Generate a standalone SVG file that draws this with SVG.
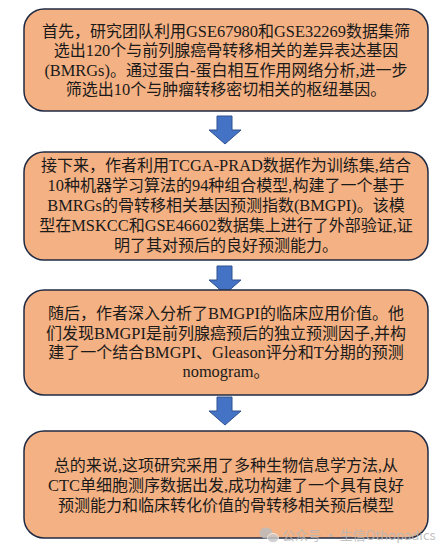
<svg xmlns="http://www.w3.org/2000/svg" width="441" height="554" viewBox="0 0 441 554">
<style>
.box{fill:#F4B183;stroke:#1F2A44;stroke-width:1.5}
.t{font-family:"Liberation Serif","Noto Sans CJK SC",serif;font-size:16px;fill:#1a1a1a;text-anchor:middle}
.b{font-weight:normal;font-size:16.4px}
.arr{fill:#4472C4;stroke:#2F528F;stroke-width:1}
.wm{font-family:"Noto Sans CJK SC","Noto Sans",sans-serif;font-size:13px;fill:#b8b8b8}
</style>
<rect width="441" height="554" fill="#ffffff"/>
<g id="connectors">
<path class="arr" d="M217,116 H232 V130 H241 L225,144 L209,130 H217 Z"/>
<path class="arr" d="M217,266 H232 V280 H241 L225,294 L209,280 H217 Z"/>
<path class="arr" d="M217,397 H232 V411 H241 L225,425 L209,411 H217 Z"/>
</g>
<g id="node1">
<rect class="box" x="24" y="9" width="404" height="102" rx="20"/>
<text class="t" x="226" y="37">首先，研究团队利用<tspan class="b">GSE67980</tspan>和<tspan class="b">GSE32269</tspan>数据集筛</text>
<text class="t" x="226" y="56">选出<tspan class="b">120</tspan>个与前列腺癌骨转移相关的差异表达基因</text>
<text class="t" x="226" y="76"><tspan class="b">(BMRGs)</tspan>。通过蛋白<tspan class="b">-</tspan>蛋白相互作用网络分析<tspan class="b">,</tspan>进一步</text>
<text class="t" x="226" y="95">筛选出<tspan class="b">10</tspan>个与肿瘤转移密切相关的枢纽基因。</text>
</g>
<g id="node2">
<rect class="box" x="24" y="152" width="404" height="108" rx="20"/>
<text class="t" x="226" y="171">接下来，作者利用<tspan class="b">TCGA-PRAD</tspan>数据作为训练集<tspan class="b">,</tspan>结合</text>
<text class="t" x="226" y="191"><tspan class="b">10</tspan>种机器学习算法的<tspan class="b">94</tspan>种组合模型<tspan class="b">,</tspan>构建了一个基于</text>
<text class="t" x="226" y="211"><tspan class="b">BMRGs</tspan>的骨转移相关基因预测指数<tspan class="b">(BMGPI)</tspan>。该模</text>
<text class="t" x="226" y="231">型在<tspan class="b">MSKCC</tspan>和<tspan class="b">GSE46602</tspan>数据集上进行了外部验证<tspan class="b">,</tspan>证</text>
<text class="t" x="226" y="251">明了其对预后的良好预测能力。</text>
</g>
<g id="node3">
<rect class="box" x="24" y="290" width="404" height="105" rx="20"/>
<text class="t" x="226" y="319">随后，作者深入分析了<tspan class="b">BMGPI</tspan>的临床应用价值。他</text>
<text class="t" x="226" y="339">们发现<tspan class="b">BMGPI</tspan>是前列腺癌预后的独立预测因子<tspan class="b">,</tspan>并构</text>
<text class="t" x="226" y="358">建了一个结合<tspan class="b">BMGPI</tspan>、<tspan class="b">Gleason</tspan>评分和<tspan class="b">T</tspan>分期的预测</text>
<text class="t" x="226" y="377"><tspan class="b">nomogram</tspan>。</text>
</g>
<g id="node4">
<rect class="box" x="24" y="431" width="404" height="107" rx="20"/>
<text class="t" x="226" y="471">总的来说<tspan class="b">,</tspan>这项研究采用了多种生物信息学方法<tspan class="b">,</tspan>从</text>
<text class="t" x="226" y="491"><tspan class="b">CTC</tspan>单细胞测序数据出发<tspan class="b">,</tspan>成功构建了一个具有良好</text>
<text class="t" x="226" y="511">预测能力和临床转化价值的骨转移相关预后模型</text>
</g>
<g id="watermark" opacity="0.85">
<ellipse cx="266" cy="533" rx="6.5" ry="5.5" fill="#bdbdbd"/>
<ellipse cx="273" cy="538" rx="5.5" ry="4.5" fill="#c8c8c8" stroke="#ffffff" stroke-width="0.8"/>
<text class="wm" x="282" y="540">公众号 · 生信Othopadics</text>
</g>
</svg>
